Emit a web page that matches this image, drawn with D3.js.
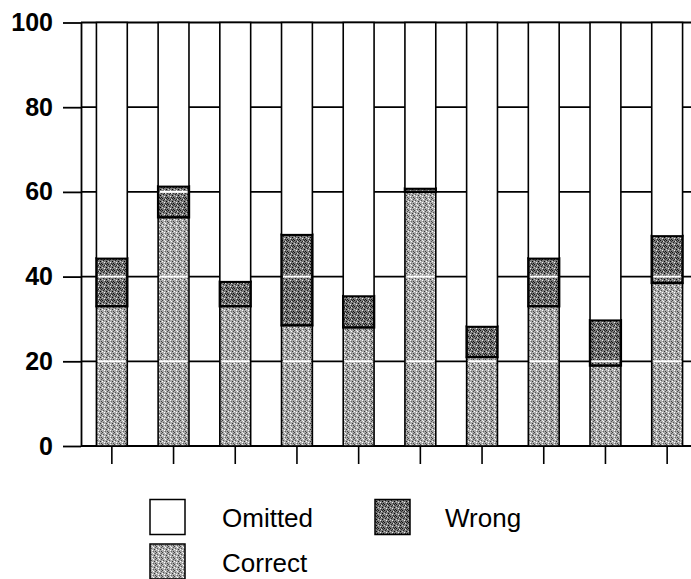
<!DOCTYPE html>
<html>
<head>
<meta charset="utf-8">
<script src="https://cdn.jsdelivr.net/npm/d3@7"></script>
<style>
  html, body { margin: 0; padding: 0; background: #fff; }
  svg { display: block; }
</style>
</head>
<body>
<svg id="chart" width="691" height="579"></svg>
<script>
// ---- data ----
const categories = ["1", "2", "3", "4", "5", "6", "7", "8", "9", "10"];
const correct = [33, 54, 33, 28.5, 28, 60, 21, 33, 19, 38.5];
const wrong   = [11.3, 7.3, 5.8, 21.4, 7.4, 0.8, 7.2, 11.3, 10.7, 11.1];
const yTicks  = [0, 20, 40, 60, 80, 100];
const legendItems = ["Omitted", "Wrong", "Correct"];

// ---- setup ----
const svg = d3.select("#chart");
const W = 691;
const plot = { left: 81, right: 698, top: 22.5, bottom: 446 };

const x = d3.scaleBand().domain(categories)
  .range([plot.left, plot.right]).paddingInner(0.5).paddingOuter(0.25);
const y = d3.scaleLinear().domain([0, 100]).range([plot.bottom, plot.top]);

// patterns (stipple)
const defs = svg.append("defs");
function stipple(id, base, dots) {
  const p = defs.append("pattern").attr("id", id)
    .attr("patternUnits", "userSpaceOnUse").attr("width", 6).attr("height", 6);
  p.append("rect").attr("width", 6).attr("height", 6).attr("fill", base);
  dots.forEach(([dx, dy, c]) => p.append("rect").attr("x", dx).attr("y", dy)
    .attr("width", 1).attr("height", 1).attr("fill", c));
}
stipple("pCorrect", "#ababab",
  [[0,0,"#444"],[3,1,"#fff"],[1,2,"#555"],[4,3,"#333"],[2,4,"#fff"],[5,5,"#444"],[0,3,"#fff"],[3,5,"#666"],[5,1,"#555"],[2,0,"#eee"]]);
stipple("pWrong", "#7a7a7a",
  [[0,0,"#111"],[3,1,"#ddd"],[1,2,"#222"],[4,3,"#000"],[2,4,"#eee"],[5,5,"#111"],[0,3,"#ccc"],[3,5,"#222"],[5,1,"#333"],[2,1,"#222"],[4,0,"#222"]]);

// gridlines
svg.append("g").selectAll("line").data(yTicks).join("line")
  .attr("x1", plot.left).attr("x2", W)
  .attr("y1", d => y(d)).attr("y2", d => y(d))
  .attr("stroke", "#000").attr("stroke-width", 1.8);

// stacked data
const rows = categories.map((c, i) => ({ cat: c, Correct: correct[i], Wrong: wrong[i], Omitted: 100 - correct[i] - wrong[i] }));
const stack = d3.stack().keys(["Correct", "Wrong", "Omitted"])(rows);
const fills = { Correct: "url(#pCorrect)", Wrong: "url(#pWrong)", Omitted: "#fff" };

const layers = svg.append("g").selectAll("g").data(stack).join("g");
layers.selectAll("rect").data(d => d.map(v => ({ key: d.key, v }))).join("rect")
  .attr("x", d => x(d.v.data.cat))
  .attr("width", x.bandwidth())
  .attr("y", d => y(d.v[1]))
  .attr("height", d => y(d.v[0]) - y(d.v[1]))
  .attr("fill", d => fills[d.key])
  .attr("stroke", "#000")
  .attr("stroke-width", d => d.key === "Wrong" ? 2.4 : 1.6);

// white gridline traces through patterned segments
const whiteLines = [];
stack.filter(s => s.key !== "Omitted").forEach(s => {
  s.forEach(v => {
    yTicks.forEach(t => {
      if (t > v[0] + 0.6 && t < v[1] - 0.6) whiteLines.push({ cat: v.data.cat, t });
    });
  });
});
svg.append("g").selectAll("line").data(whiteLines).join("line")
  .attr("x1", d => x(d.cat) + 1.5).attr("x2", d => x(d.cat) + x.bandwidth() - 1.5)
  .attr("y1", d => y(d.t)).attr("y2", d => y(d.t))
  .attr("stroke", "#fff").attr("stroke-width", 2);

// y axis
const yAxis = svg.append("g").attr("transform", `translate(${plot.left},0)`)
  .call(d3.axisLeft(y).tickValues(yTicks).tickSize(18).tickPadding(10).tickSizeOuter(0));
yAxis.select(".domain").attr("stroke", "#000").attr("stroke-width", 1.8);
yAxis.selectAll(".tick line").attr("stroke-width", 1.8);
yAxis.selectAll("text").attr("font-family", "Liberation Sans, Arial, sans-serif")
  .attr("font-size", 25).attr("font-weight", "bold").attr("fill", "#000");

// x axis ticks (no labels)
const xAxis = svg.append("g").attr("transform", `translate(0,${plot.bottom})`)
  .call(d3.axisBottom(x).tickSize(18).tickSizeOuter(0).tickFormat(""));
xAxis.select(".domain").remove();
xAxis.selectAll(".tick line").attr("stroke-width", 1.6);

// legend
const legendPos = [
  { box: [150, 499.5], text: [222, 527] },
  { box: [375, 499.5], text: [445, 527] },
  { box: [150, 544], text: [222, 572] }
];
const legendFill = { Omitted: "#fff", Wrong: "url(#pWrong)", Correct: "url(#pCorrect)" };
const lg = svg.append("g").selectAll("g").data(legendItems).join("g");
lg.append("rect")
  .attr("x", (d, i) => legendPos[i].box[0]).attr("y", (d, i) => legendPos[i].box[1])
  .attr("width", 35).attr("height", 35)
  .attr("fill", d => legendFill[d]).attr("stroke", "#000").attr("stroke-width", 1.5);
lg.append("text")
  .attr("x", (d, i) => legendPos[i].text[0]).attr("y", (d, i) => legendPos[i].text[1])
  .attr("font-family", "Liberation Sans, Arial, sans-serif").attr("font-size", 26)
  .attr("fill", "#000").text(d => d);
</script>
</body>
</html>
